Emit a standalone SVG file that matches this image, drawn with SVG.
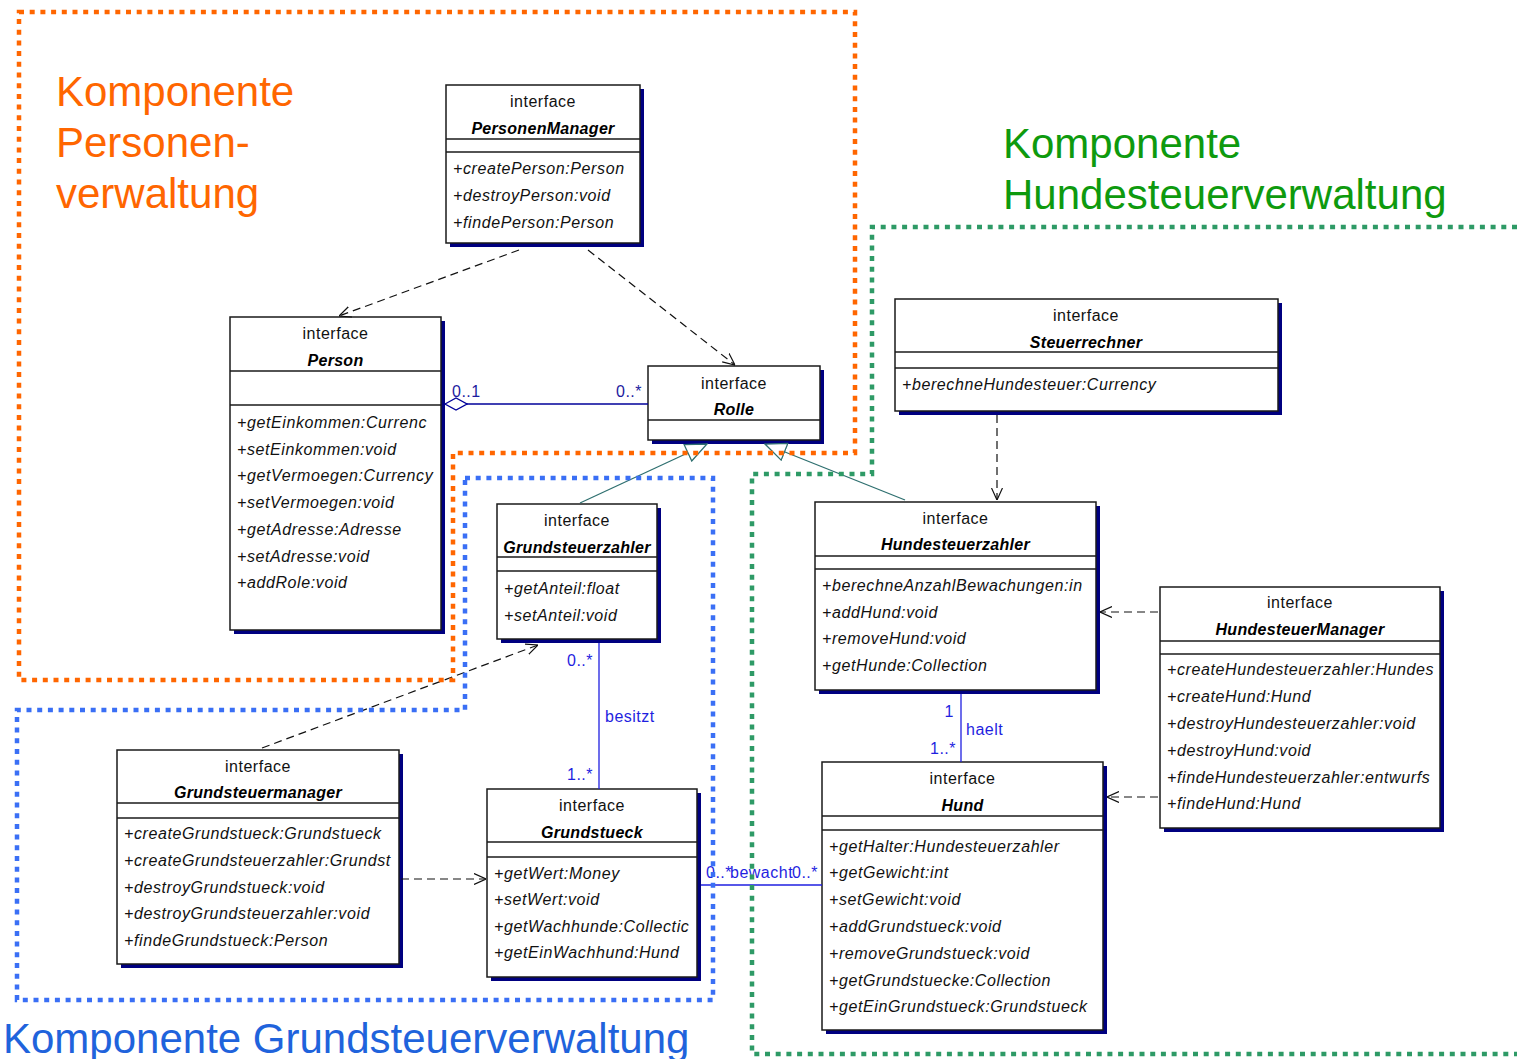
<svg xmlns="http://www.w3.org/2000/svg" width="1517" height="1059" viewBox="0 0 1517 1059">
<style>
text{font-family:"Liberation Sans",Arial,sans-serif;}
.title{font-size:42px;}
.shadow{fill:#000080;stroke:none;}
.box{fill:#ffffff;stroke:#1a1a1a;stroke-width:1.5;}
.sep{stroke:#1a1a1a;stroke-width:1.5;}
.st{font-size:16px;text-anchor:middle;fill:#111;letter-spacing:0.5px;}
.nm{font-size:16px;font-weight:bold;font-style:italic;text-anchor:middle;fill:#000;letter-spacing:0.3px;}
.op{font-size:16px;font-style:italic;fill:#111;letter-spacing:0.6px;}
.dep{stroke:#111;stroke-width:1.2;fill:none;stroke-dasharray:8 5;}
.gen{stroke:#2f7070;stroke-width:1.3;fill:none;}
.agg{stroke:#00009a;stroke-width:1.3;fill:none;}
.asc{stroke:#1f1fe0;stroke-width:1.3;fill:none;}
.lblN{font-size:16px;fill:#1c1ca0;letter-spacing:0.5px;}
.lblB{font-size:16px;fill:#1f1fe0;letter-spacing:0.5px;}
.dot{fill:none;stroke-width:4.5;stroke-dasharray:5 5.7;}
</style>
<defs>
<marker id="open" viewBox="0 0 12 12" refX="12" refY="6" markerWidth="12" markerHeight="12" markerUnits="userSpaceOnUse" orient="auto">
<path d="M0,0.5 L12,6 L0,11.5" fill="none" stroke="#111" stroke-width="1.2" stroke-dasharray="none"/>
</marker>
<marker id="tri" viewBox="0 0 23 20" refX="22" refY="10" markerWidth="23" markerHeight="20" markerUnits="userSpaceOnUse" orient="auto">
<path d="M1,1 L22,10 L1,19 Z" fill="#ffffff" stroke="#2f7070" stroke-width="1.3"/>
</marker>
<marker id="dia" viewBox="0 0 24 14" refX="1" refY="7" markerWidth="24" markerHeight="14" markerUnits="userSpaceOnUse" orient="auto">
<path d="M1,7 L12,1 L23,7 L12,13 Z" fill="#ffffff" stroke="#00009a" stroke-width="1.3"/>
</marker>
<clipPath id="cPerson"><rect x="231" y="406" width="209" height="223"/></clipPath>
<clipPath id="cHsz"><rect x="816" y="570" width="279" height="119"/></clipPath>
<clipPath id="cHsm"><rect x="1161" y="655" width="278" height="172"/></clipPath>
<clipPath id="cGsm"><rect x="118" y="819" width="280" height="144"/></clipPath>
<clipPath id="cGst"><rect x="488" y="858" width="208" height="118"/></clipPath>
</defs>

<g id="titles">
<text class="title" fill="#ff6600" x="56" y="106">Komponente</text>
<text class="title" fill="#ff6600" x="56" y="157">Personen-</text>
<text class="title" fill="#ff6600" x="56" y="208">verwaltung</text>
<text class="title" fill="#0e9a0e" x="1003" y="158">Komponente</text>
<text class="title" fill="#0e9a0e" x="1003" y="209">Hundesteuerverwaltung</text>
<text class="title" fill="#1f63dc" x="3" y="1053">Komponente Grundsteuerverwaltung</text>
</g>

<g id="PersonenManager">
<rect class="shadow" x="450" y="89" width="194" height="158"/>
<rect class="box" x="446" y="85" width="194" height="158"/>
<line class="sep" x1="446" y1="139" x2="640" y2="139"/>
<line class="sep" x1="446" y1="152" x2="640" y2="152"/>
<text class="st" x="543" y="107">interface</text>
<text class="nm" x="543" y="134">PersonenManager</text>
<text class="op" x="453" y="174">+createPerson:Person</text>
<text class="op" x="453" y="201">+destroyPerson:void</text>
<text class="op" x="453" y="228">+findePerson:Person</text>
</g>

<g id="Person">
<rect class="shadow" x="234" y="321" width="211" height="313"/>
<rect class="box" x="230" y="317" width="211" height="313"/>
<line class="sep" x1="230" y1="371" x2="441" y2="371"/>
<line class="sep" x1="230" y1="405" x2="441" y2="405"/>
<text class="st" x="335.5" y="339">interface</text>
<text class="nm" x="335.5" y="366">Person</text>
<g clip-path="url(#cPerson)">
<text class="op" x="237" y="428">+getEinkommen:Currenc</text>
<text class="op" x="237" y="455">+setEinkommen:void</text>
<text class="op" x="237" y="481">+getVermoegen:Currency</text>
<text class="op" x="237" y="508">+setVermoegen:void</text>
<text class="op" x="237" y="535">+getAdresse:Adresse</text>
<text class="op" x="237" y="562">+setAdresse:void</text>
<text class="op" x="237" y="588">+addRole:void</text>
</g>
</g>

<g id="Rolle">
<rect class="shadow" x="652" y="370" width="172" height="74"/>
<rect class="box" x="648" y="366" width="172" height="74"/>
<line class="sep" x1="648" y1="420" x2="820" y2="420"/>
<text class="st" x="734" y="389">interface</text>
<text class="nm" x="734" y="415">Rolle</text>
</g>

<g id="Grundsteuerzahler">
<rect class="shadow" x="501" y="508" width="160" height="135"/>
<rect class="box" x="497" y="504" width="160" height="135"/>
<line class="sep" x1="497" y1="557" x2="657" y2="557"/>
<line class="sep" x1="497" y1="571" x2="657" y2="571"/>
<text class="st" x="577" y="526">interface</text>
<text class="nm" x="577" y="553">Grundsteuerzahler</text>
<text class="op" x="504" y="594">+getAnteil:float</text>
<text class="op" x="504" y="621">+setAnteil:void</text>
</g>

<g id="Steuerrechner">
<rect class="shadow" x="899" y="303" width="383" height="112"/>
<rect class="box" x="895" y="299" width="383" height="112"/>
<line class="sep" x1="895" y1="352" x2="1278" y2="352"/>
<line class="sep" x1="895" y1="368" x2="1278" y2="368"/>
<text class="st" x="1086" y="321">interface</text>
<text class="nm" x="1086" y="348">Steuerrechner</text>
<text class="op" x="902" y="390">+berechneHundesteuer:Currency</text>
</g>

<g id="Hundesteuerzahler">
<rect class="shadow" x="819" y="506" width="281" height="188"/>
<rect class="box" x="815" y="502" width="281" height="188"/>
<line class="sep" x1="815" y1="556" x2="1096" y2="556"/>
<line class="sep" x1="815" y1="569" x2="1096" y2="569"/>
<text class="st" x="955.5" y="524">interface</text>
<text class="nm" x="955.5" y="550">Hundesteuerzahler</text>
<g clip-path="url(#cHsz)">
<text class="op" x="822" y="591">+berechneAnzahlBewachungen:in</text>
<text class="op" x="822" y="618">+addHund:void</text>
<text class="op" x="822" y="644">+removeHund:void</text>
<text class="op" x="822" y="671">+getHunde:Collection</text>
</g>
</g>

<g id="HundesteuerManager">
<rect class="shadow" x="1164" y="591" width="280" height="241"/>
<rect class="box" x="1160" y="587" width="280" height="241"/>
<line class="sep" x1="1160" y1="641" x2="1440" y2="641"/>
<line class="sep" x1="1160" y1="654" x2="1440" y2="654"/>
<text class="st" x="1300" y="608">interface</text>
<text class="nm" x="1300" y="635">HundesteuerManager</text>
<g clip-path="url(#cHsm)">
<text class="op" x="1167" y="675">+createHundesteuerzahler:Hundes</text>
<text class="op" x="1167" y="702">+createHund:Hund</text>
<text class="op" x="1167" y="729">+destroyHundesteuerzahler:void</text>
<text class="op" x="1167" y="756">+destroyHund:void</text>
<text class="op" x="1167" y="783">+findeHundesteuerzahler:entwurfs</text>
<text class="op" x="1167" y="809">+findeHund:Hund</text>
</g>
</g>

<g id="Hund">
<rect class="shadow" x="826" y="766" width="281" height="268"/>
<rect class="box" x="822" y="762" width="281" height="268"/>
<line class="sep" x1="822" y1="816" x2="1103" y2="816"/>
<line class="sep" x1="822" y1="830" x2="1103" y2="830"/>
<text class="st" x="962.5" y="784">interface</text>
<text class="nm" x="962.5" y="811">Hund</text>
<text class="op" x="829" y="852">+getHalter:Hundesteuerzahler</text>
<text class="op" x="829" y="878">+getGewicht:int</text>
<text class="op" x="829" y="905">+setGewicht:void</text>
<text class="op" x="829" y="932">+addGrundstueck:void</text>
<text class="op" x="829" y="959">+removeGrundstueck:void</text>
<text class="op" x="829" y="986">+getGrundstuecke:Collection</text>
<text class="op" x="829" y="1012">+getEinGrundstueck:Grundstueck</text>
</g>

<g id="Grundsteuermanager">
<rect class="shadow" x="121" y="754" width="282" height="214"/>
<rect class="box" x="117" y="750" width="282" height="214"/>
<line class="sep" x1="117" y1="803" x2="399" y2="803"/>
<line class="sep" x1="117" y1="818" x2="399" y2="818"/>
<text class="st" x="258" y="772">interface</text>
<text class="nm" x="258" y="798">Grundsteuermanager</text>
<g clip-path="url(#cGsm)">
<text class="op" x="124" y="839">+createGrundstueck:Grundstueck</text>
<text class="op" x="124" y="866">+createGrundsteuerzahler:Grundst</text>
<text class="op" x="124" y="893">+destroyGrundstueck:void</text>
<text class="op" x="124" y="919">+destroyGrundsteuerzahler:void</text>
<text class="op" x="124" y="946">+findeGrundstueck:Person</text>
</g>
</g>

<g id="Grundstueck">
<rect class="shadow" x="491" y="793" width="210" height="188"/>
<rect class="box" x="487" y="789" width="210" height="188"/>
<line class="sep" x1="487" y1="842" x2="697" y2="842"/>
<line class="sep" x1="487" y1="857" x2="697" y2="857"/>
<text class="st" x="592" y="811">interface</text>
<text class="nm" x="592" y="838">Grundstueck</text>
<g clip-path="url(#cGst)">
<text class="op" x="494" y="879">+getWert:Money</text>
<text class="op" x="494" y="905">+setWert:void</text>
<text class="op" x="494" y="932">+getWachhunde:Collectic</text>
<text class="op" x="494" y="958">+getEinWachhund:Hund</text>
</g>
</g>

<g id="connectors">
<line class="dep" x1="519" y1="250" x2="339" y2="316" marker-end="url(#open)"/>
<line class="dep" x1="588" y1="250" x2="735" y2="365" marker-end="url(#open)"/>
<line class="dep" x1="997" y1="415" x2="997" y2="500" marker-end="url(#open)"/>
<line class="dep" x1="1158" y1="612" x2="1100" y2="612" marker-end="url(#open)"/>
<line class="dep" x1="1158" y1="797" x2="1107" y2="797" marker-end="url(#open)"/>
<line class="dep" x1="262" y1="748" x2="538" y2="645" marker-end="url(#open)"/>
<line class="dep" x1="401" y1="879" x2="486" y2="879" marker-end="url(#open)"/>
<line class="gen" x1="580" y1="503" x2="707" y2="444" marker-end="url(#tri)"/>
<line class="gen" x1="905" y1="500" x2="765" y2="444" marker-end="url(#tri)"/>
<line class="agg" x1="445" y1="404" x2="648" y2="404" marker-start="url(#dia)"/>
<text class="lblN" x="452" y="397">0..1</text>
<text class="lblN" x="642" y="397" text-anchor="end">0..*</text>
<line class="asc" x1="599" y1="643" x2="599" y2="789"/>
<text class="lblB" x="593" y="666" text-anchor="end">0..*</text>
<text class="lblB" x="605" y="722">besitzt</text>
<text class="lblB" x="593" y="780" text-anchor="end">1..*</text>
<line class="asc" x1="961" y1="694" x2="961" y2="762"/>
<text class="lblB" x="954" y="717" text-anchor="end">1</text>
<text class="lblB" x="966" y="735">haelt</text>
<text class="lblB" x="956" y="754" text-anchor="end">1..*</text>
<line class="asc" x1="701" y1="885" x2="822" y2="885"/>
<text class="lblB" x="706" y="878" letter-spacing="0">0..*</text>
<text class="lblB" x="730" y="878" letter-spacing="0">bewacht</text>
<text class="lblB" x="792" y="878" letter-spacing="0">0..*</text>
</g>

<g id="boundaries">
<path class="dot" stroke="#ff6600" d="M19,12 H855 V453 H453 V680 H19 Z"/>
<path class="dot" stroke="#3a6ff5" d="M465,478 H713 V1000 H17 V710 H465 Z"/>
<path class="dot" stroke="#2e9a66" d="M1517,227 H872 V474 H752 V1054 H1517"/>
</g>
</svg>
